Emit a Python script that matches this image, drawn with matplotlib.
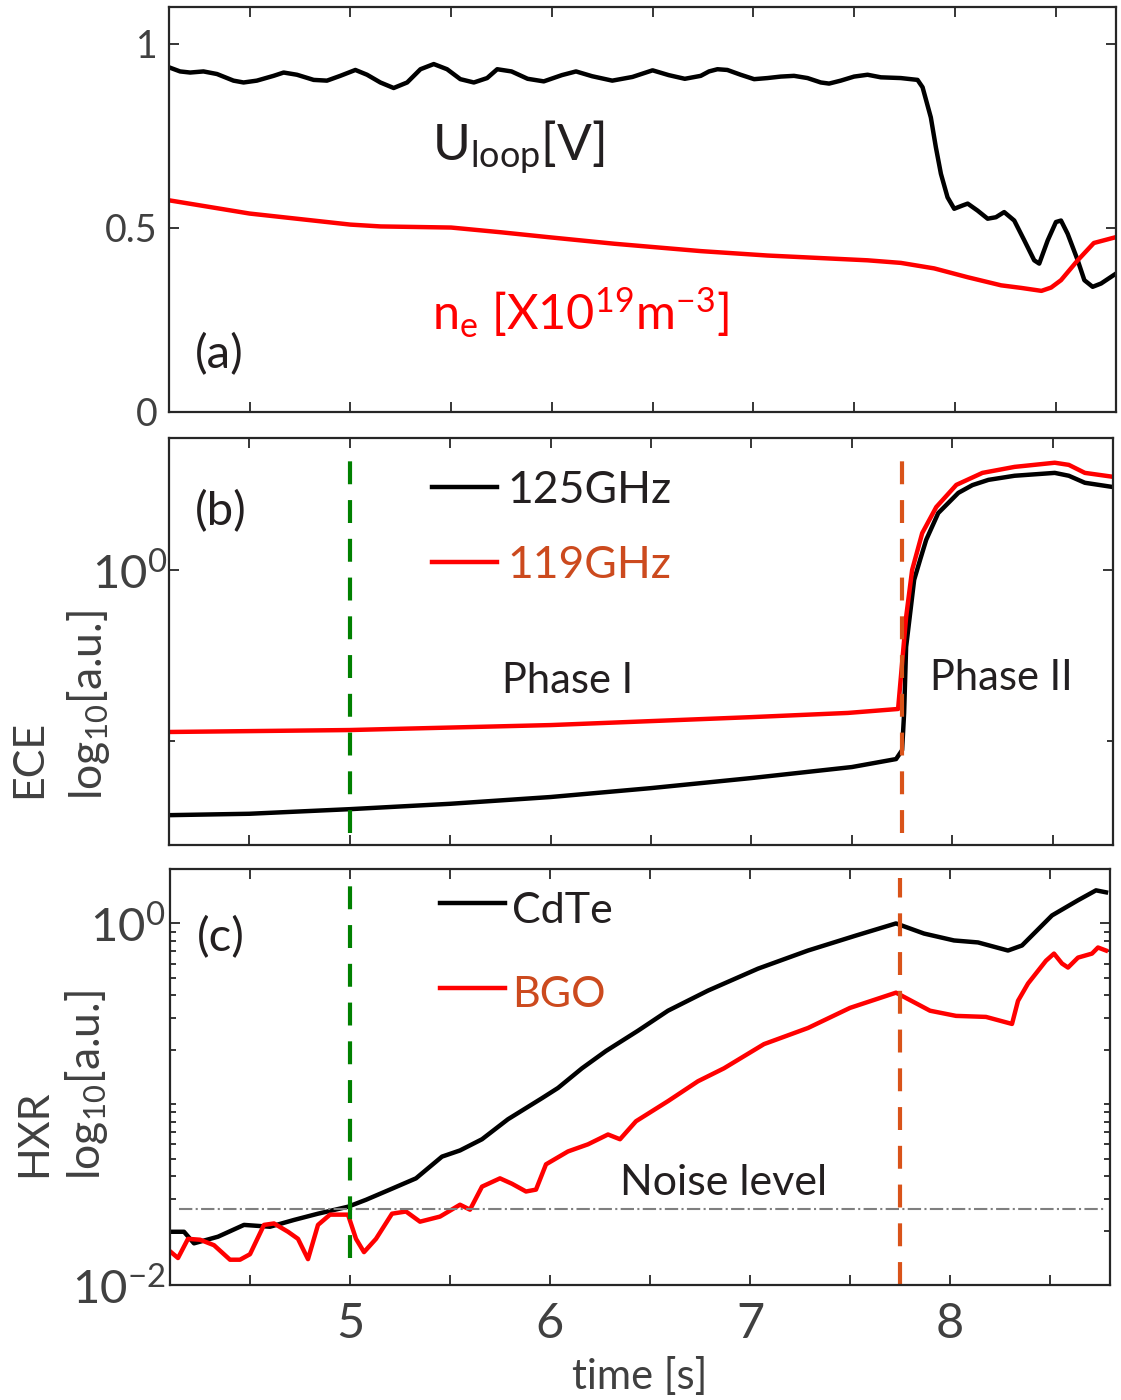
import numpy as np
import matplotlib
matplotlib.use("Agg")
import matplotlib.pyplot as plt
from matplotlib.ticker import FixedLocator, NullFormatter

plt.rcParams['font.family'] = ['Lato', 'DejaVu Sans']
plt.rcParams['mathtext.fontset'] = 'custom'
plt.rcParams['mathtext.rm'] = 'Lato'
plt.rcParams['mathtext.it'] = 'Lato:italic'
plt.rcParams['mathtext.bf'] = 'Lato:bold'

# ---- panel (a): loop voltage and density
t_uloop = [4.101, 4.155, 4.205, 4.271, 4.338, 4.42, 4.47, 4.536, 4.619, 4.669, 4.735, 4.818,
           4.884, 4.95, 5.025, 5.083, 5.149, 5.215, 5.282, 5.348, 5.414, 5.48, 5.546, 5.613,
           5.679, 5.729, 5.80, 5.88, 5.96, 6.05, 6.12, 6.20, 6.30, 6.40, 6.50, 6.58, 6.66,
           6.739, 6.78, 6.822, 6.871, 6.937, 7.004, 7.07, 7.136, 7.202, 7.269, 7.335, 7.376,
           7.434, 7.50, 7.567, 7.633, 7.732, 7.815, 7.84, 7.881, 7.906, 7.931, 7.964, 7.997,
           8.039, 8.064, 8.113, 8.163, 8.204, 8.245, 8.295, 8.345, 8.394, 8.419, 8.461, 8.502,
           8.527, 8.56, 8.61, 8.643, 8.684, 8.726, 8.80]
uloop = [0.936, 0.925, 0.922, 0.925, 0.918, 0.900, 0.895, 0.900, 0.913, 0.922, 0.916, 0.902,
         0.900, 0.913, 0.929, 0.916, 0.895, 0.880, 0.895, 0.931, 0.945, 0.931, 0.904, 0.895,
         0.907, 0.931, 0.925, 0.905, 0.898, 0.915, 0.925, 0.912, 0.900, 0.910, 0.928, 0.915,
         0.905, 0.913, 0.925, 0.931, 0.929, 0.916, 0.904, 0.907, 0.911, 0.913, 0.907, 0.895,
         0.892, 0.900, 0.911, 0.916, 0.909, 0.907, 0.902, 0.882, 0.800, 0.719, 0.647, 0.583,
         0.552, 0.561, 0.566, 0.547, 0.525, 0.529, 0.543, 0.520, 0.466, 0.412, 0.403, 0.466,
         0.516, 0.520, 0.484, 0.412, 0.358, 0.340, 0.349, 0.376]
t_ne = [4.10, 4.50, 5.00, 5.15, 5.50, 5.75, 5.98, 6.31, 6.739, 7.07, 7.567, 7.732, 7.898,
        8.064, 8.23, 8.33, 8.43, 8.478, 8.527, 8.61, 8.69, 8.80]
ne = [0.575, 0.539, 0.509, 0.504, 0.501, 0.488, 0.475, 0.457, 0.437, 0.425, 0.412, 0.405,
      0.390, 0.366, 0.344, 0.337, 0.329, 0.338, 0.358, 0.412, 0.459, 0.475]

# ---- panel (b): ECE
t_ece125 = [4.10, 4.50, 5.00, 5.50, 6.00, 6.50, 7.00, 7.50, 7.72, 7.75, 7.76, 7.77,
            7.81, 7.84, 7.87, 7.93, 8.03, 8.10, 8.18, 8.31, 8.51, 8.58, 8.66, 8.80]
ece125 = [0.0369, 0.0376, 0.0400, 0.0430, 0.0471, 0.0531, 0.0608, 0.0705, 0.0785, 0.0885,
          0.146, 0.355, 0.875, 1.15, 1.50, 2.15, 2.82, 3.13, 3.36, 3.55, 3.69, 3.55, 3.23, 3.05]
t_ece119 = [4.10, 5.00, 6.00, 7.00, 7.48, 7.73, 7.75, 7.77, 7.80, 7.85, 7.92, 8.02,
            8.15, 8.31, 8.51, 8.58, 8.66, 8.80]
ece119 = [0.113, 0.116, 0.124, 0.138, 0.146, 0.154, 0.286, 0.531, 1.00, 1.64, 2.33, 3.14,
          3.69, 4.00, 4.23, 4.11, 3.69, 3.50]

# ---- panel (c): HXR
t_cdte = [4.105, 4.17, 4.22, 4.34, 4.47, 4.60, 4.72, 4.84, 4.99, 5.08, 5.21, 5.33, 5.46,
          5.55, 5.66, 5.79, 5.96, 6.04, 6.16, 6.28, 6.44, 6.59, 6.79, 7.04, 7.29, 7.53,
          7.73, 7.87, 8.02, 8.14, 8.29, 8.36, 8.51, 8.64, 8.73, 8.78]
cdte = [0.0197, 0.0197, 0.0170, 0.0185, 0.0215, 0.0210, 0.0229, 0.0248, 0.0271, 0.0296,
        0.0341, 0.0389, 0.0513, 0.0555, 0.0640, 0.0826, 0.108, 0.123, 0.158, 0.197, 0.255,
        0.329, 0.425, 0.562, 0.708, 0.857, 1.000, 0.879, 0.805, 0.785, 0.708, 0.755, 1.107,
        1.343, 1.524, 1.486]
t_bgo = [4.105, 4.14, 4.19, 4.25, 4.32, 4.40, 4.45, 4.50, 4.57, 4.62, 4.69, 4.74, 4.79,
         4.84, 4.90, 4.99, 5.03, 5.07, 5.13, 5.21, 5.28, 5.35, 5.45, 5.55, 5.60, 5.66,
         5.75, 5.81, 5.88, 5.93, 5.98, 6.09, 6.19, 6.29, 6.35, 6.43, 6.59, 6.74, 6.87,
         7.07, 7.29, 7.50, 7.73, 7.90, 8.03, 8.18, 8.31, 8.34, 8.39, 8.48, 8.52, 8.56,
         8.59, 8.64, 8.71, 8.74, 8.78]
bgo = [0.0152, 0.0141, 0.0180, 0.0178, 0.0166, 0.0138, 0.0138, 0.0148, 0.0215, 0.0219,
       0.0197, 0.0180, 0.0139, 0.0215, 0.0245, 0.0245, 0.0180, 0.0152, 0.0180, 0.0248,
       0.0255, 0.0224, 0.0239, 0.0278, 0.0261, 0.0350, 0.0389, 0.0363, 0.0329, 0.0337,
       0.0465, 0.0548, 0.0600, 0.0680, 0.0640, 0.0805, 0.104, 0.134, 0.158, 0.215, 0.264,
       0.341, 0.414, 0.329, 0.308, 0.304, 0.278, 0.373, 0.465, 0.622, 0.681, 0.600, 0.570,
       0.647, 0.681, 0.736, 0.708]
noise_level = 0.0264
noise_span = (4.145, 8.77)

t_phase1 = 5.0
t_phase2 = 7.75

xticks = [4.5, 5, 5.5, 6, 6.5, 7, 7.5, 8, 8.5]
xticklabels = ['', '5', '', '6', '', '7', '', '8', '']

W, H = 1121, 1400
fig = plt.figure(figsize=(W / 100, H / 100), dpi=100)


def add_ax(x0, x1, y0, y1):
    return fig.add_axes([x0 / W, 1 - y1 / H, (x1 - x0) / W, (y1 - y0) / H])


ax_a = add_ax(169, 1116, 7, 412)
ax_b = add_ax(169, 1113, 438, 845)
ax_c = add_ax(170, 1110, 869, 1285)

spine_col = '#262626'
tick_col = '#404040'
txt_col = '#231f20'
orange_txt = '#cc4a1e'
lw = 3.2
dash = (0, (5.5, 3.8))

for ax in (ax_a, ax_b, ax_c):
    ax.set_xlim(4.1, 8.8)
    ax.set_xticks(xticks)
    ax.set_xticklabels(xticklabels)
    for s in ax.spines.values():
        s.set_color(spine_col)
        s.set_linewidth(1.6)
    ax.tick_params(which='both', direction='in', top=True, right=True,
                   color=spine_col, width=1.3, labelcolor=tick_col)
    ax.tick_params(which='major', length=7.5)
    ax.tick_params(which='minor', length=4.5)
    ax.tick_params(axis='x', labelsize=35, pad=12)
    ax.tick_params(axis='y', labelsize=27, pad=8)

ax_a.tick_params(axis='x', labelbottom=False)
ax_b.tick_params(axis='x', labelbottom=False)

# (a)
ax_a.plot(t_uloop, uloop, color='black', lw=lw)
ax_a.plot(t_ne, ne, color='red', lw=lw)
ax_a.set_ylim(0, 1.1)
ax_a.set_yticks([0, 0.5, 1])
ax_a.set_yticklabels(['0', '0.5', '1'])
ax_a.text(0.027, 0.141, '(a)', transform=ax_a.transAxes, fontsize=34, color=txt_col, va='center')
ax_a.text(0.278, 0.622, r'U$_{\mathrm{loop}}$[V]', transform=ax_a.transAxes,
          fontsize=37, color=txt_col, va='baseline')
ax_a.text(0.278, 0.202, r'n$_{\mathrm{e}}$ [X10$^{\mathrm{19}}$m$^{\mathrm{-3}}$]',
          transform=ax_a.transAxes, fontsize=35, color='red', va='baseline')

# (b)
ax_b.plot(t_ece125, ece125, color='black', lw=lw)
ax_b.plot(t_ece119, ece119, color='red', lw=lw)
ax_b.set_yscale('log')
ax_b.set_ylim(0.0247, 5.9)
ax_b.yaxis.set_major_locator(FixedLocator([1.0]))
ax_b.yaxis.set_minor_locator(FixedLocator([0.1]))
ax_b.set_yticklabels([r'$\mathrm{10}^{\mathrm{0}}$'])
ax_b.yaxis.set_minor_formatter(NullFormatter())
ax_b.tick_params(axis='y', labelsize=34, pad=1)
ax_b.axvline(t_phase1, ymin=0.03, ymax=0.96, color='#008000', lw=3, ls=dash)
ax_b.axvline(t_phase2, ymin=0.03, ymax=0.97, color='#d95319', lw=3, ls=dash)
ax_b.text(0.0275, 0.818, '(b)', transform=ax_b.transAxes, fontsize=34, color=txt_col, va='center')
ax_b.plot([0.279, 0.347], [0.88, 0.88], transform=ax_b.transAxes, color='black', lw=lw)
ax_b.plot([0.279, 0.347], [0.695, 0.695], transform=ax_b.transAxes, color='red', lw=lw)
ax_b.text(0.358, 0.84, '125GHz', transform=ax_b.transAxes, fontsize=32, color=txt_col, va='baseline')
ax_b.text(0.358, 0.656, '119GHz', transform=ax_b.transAxes, fontsize=32, color=orange_txt, va='baseline')
ax_b.text(0.353, 0.373, 'Phase I', transform=ax_b.transAxes, fontsize=30, color=txt_col, va='baseline')
ax_b.text(0.806, 0.381, 'Phase II', transform=ax_b.transAxes, fontsize=30, color=txt_col, va='baseline')

# (c)
ax_c.plot(t_cdte, cdte, color='black', lw=lw)
ax_c.plot(t_bgo, bgo, color='red', lw=lw)
ax_c.set_yscale('log')
ax_c.set_ylim(0.01, 2.0)
ax_c.yaxis.set_major_locator(FixedLocator([0.01, 1.0]))
minors = [m * 10.0 ** e for e in (-2, -1) for m in range(2, 10)] + [0.1]
ax_c.yaxis.set_minor_locator(FixedLocator(minors))
ax_c.set_yticklabels([r'$\mathrm{10}^{\mathrm{-2}}$', r'$\mathrm{10}^{\mathrm{0}}$'])
ax_c.yaxis.set_minor_formatter(NullFormatter())
ax_c.tick_params(axis='y', labelsize=34, pad=3)
ax_c.hlines(noise_level, noise_span[0], noise_span[1], color='#7f7f7f', lw=1.5, ls='-.')
ax_c.axvline(t_phase1, ymin=0.065, ymax=0.966, color='#008000', lw=3, ls=dash)
ax_c.axvline(t_phase2, ymin=0.0, ymax=0.978, color='#d95319', lw=3, ls=dash)
ax_c.text(0.029, 0.834, '(c)', transform=ax_c.transAxes, fontsize=34, color=txt_col, va='center')
ax_c.plot([0.287, 0.356], [0.918, 0.918], transform=ax_c.transAxes, color='black', lw=lw)
ax_c.plot([0.287, 0.356], [0.714, 0.714], transform=ax_c.transAxes, color='red', lw=lw)
ax_c.text(0.364, 0.870, 'CdTe', transform=ax_c.transAxes, fontsize=31, color=txt_col, va='baseline')
ax_c.text(0.364, 0.668, 'BGO', transform=ax_c.transAxes, fontsize=31, color=orange_txt, va='baseline')
ax_c.text(0.479, 0.216, 'Noise level', transform=ax_c.transAxes, fontsize=31, color=txt_col, va='baseline')
ax_c.set_xlabel('time [s]', fontsize=30, color=tick_col, labelpad=8)

# y labels
fig.text(29 / W, 1 - 798 / H, 'ECE', rotation=90, ha='center', va='bottom', fontsize=31, color=tick_col)
fig.text(88 / W, 1 - 800 / H, r'log$_{\mathrm{10}}$[a.u.]', rotation=90, ha='center', va='bottom',
         fontsize=32, color=tick_col)
fig.text(34 / W, 1 - 1177 / H, 'HXR', rotation=90, ha='center', va='bottom', fontsize=31, color=tick_col)
fig.text(86 / W, 1 - 1180 / H, r'log$_{\mathrm{10}}$[a.u.]', rotation=90, ha='center', va='bottom',
         fontsize=32, color=tick_col)

fig.savefig('out.png', dpi=100)
